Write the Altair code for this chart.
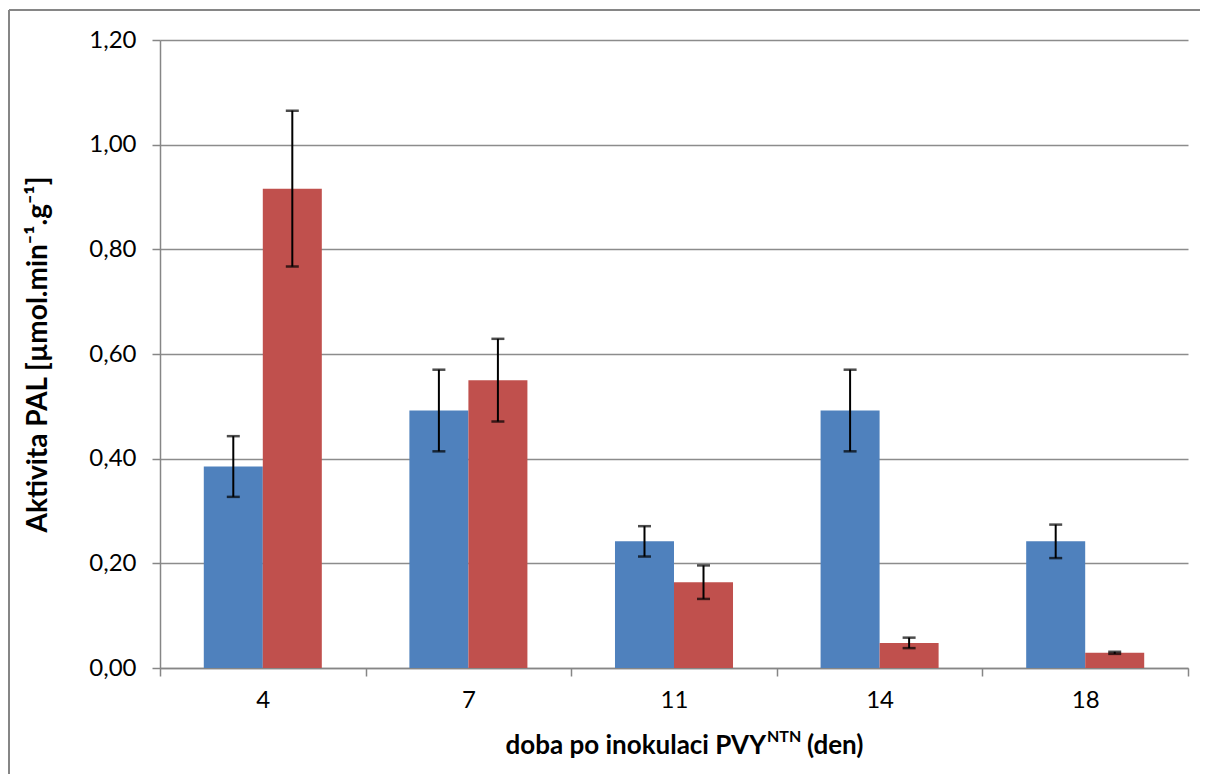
import altair as alt
import pandas as pd

# ---- data ----
days = ["4", "7", "11", "14", "18"]
series = ["s1", "s2"]
blue_vals = [0.385, 0.492, 0.242, 0.492, 0.242]
blue_err = [0.058, 0.078, 0.029, 0.078, 0.032]
red_vals = [0.916, 0.550, 0.164, 0.048, 0.029]
red_err = [0.149, 0.079, 0.032, 0.010, 0.002]
y_ticks = [0.0, 0.2, 0.4, 0.6, 0.8, 1.0, 1.2]
colors = ["#4F81BD", "#C0504D"]

y_title = "Aktivita PAL [µmol.min⁻¹.g⁻¹]"
x_title_main = "doba po inokulaci PVY"
x_title_sup = "NTN"
x_title_end = "(den)"

rows = []
for d, v, e in zip(days, blue_vals, blue_err):
    rows.append({"day": d, "series": series[0], "value": v, "lo": v - e, "hi": v + e})
for d, v, e in zip(days, red_vals, red_err):
    rows.append({"day": d, "series": series[1], "value": v, "lo": v - e, "hi": v + e})
df = pd.DataFrame(rows)
one = pd.DataFrame({"k": [0]})

W, H = 1028, 628
FONT = "Lato"
GRAY = "#868686"

x_scale = alt.Scale(paddingInner=0, paddingOuter=0)
xo_scale = alt.Scale(domain=series, paddingInner=0, paddingOuter=0.742)
y_scale = alt.Scale(domain=[0, 1.2], nice=False)

x_enc = alt.X(
    "day:N",
    sort=days,
    scale=x_scale,
    axis=alt.Axis(
        title=None,
        labelAngle=0,
        tickBand="extent",
        grid=False,
        labelPadding=12,
    ),
)

bars = alt.Chart(df).mark_bar().encode(
    x=x_enc,
    xOffset=alt.XOffset("series:N", sort=series, scale=xo_scale),
    y=alt.Y(
        "value:Q",
        scale=y_scale,
        axis=alt.Axis(
            values=y_ticks,
            labelExpr="replace(format(datum.value, '.2f'), '.', ',')",
            title=y_title,
            titleX=-122,
            titleY=H / 2,
            titleAngle=-90,
            titleAlign="center",
            titleBaseline="middle",
            titleFontSize=28,
            titleFontWeight="bold",
            titleFont=FONT,
            titleColor="black",
            labelPadding=16,
            grid=True,
        ),
    ),
    color=alt.Color("series:N", scale=alt.Scale(domain=series, range=colors), legend=None),
)

err = alt.Chart(df).mark_rule(color="black", strokeWidth=2).encode(
    x=alt.X("day:N", sort=days, scale=x_scale),
    xOffset=alt.XOffset("series:N", sort=series, scale=xo_scale),
    y=alt.Y("lo:Q", scale=y_scale),
    y2="hi:Q",
)
cap_lo = alt.Chart(df).mark_tick(color="black", thickness=2.5, size=13).encode(
    x=alt.X("day:N", sort=days, scale=x_scale),
    xOffset=alt.XOffset("series:N", sort=series, scale=xo_scale),
    y=alt.Y("lo:Q", scale=y_scale),
)
cap_hi = alt.Chart(df).mark_tick(color="black", thickness=2.5, size=13).encode(
    x=alt.X("day:N", sort=days, scale=x_scale),
    xOffset=alt.XOffset("series:N", sort=series, scale=xo_scale),
    y=alt.Y("hi:Q", scale=y_scale),
)

# x title pieces (superscript NTN)
XT = 606
t1 = alt.Chart(one).mark_text(align="right", baseline="middle", fontSize=26, fontWeight="bold", font=FONT, color="black").encode(
    x=alt.value(XT), y=alt.value(706), text=alt.value(x_title_main))
t2 = alt.Chart(one).mark_text(align="left", baseline="middle", fontSize=16, fontWeight="bold", font=FONT, color="black").encode(
    x=alt.value(XT + 1), y=alt.value(697), text=alt.value(x_title_sup))
t3 = alt.Chart(one).mark_text(align="left", baseline="middle", fontSize=26, fontWeight="bold", font=FONT, color="black").encode(
    x=alt.value(XT + 41), y=alt.value(706), text=alt.value(x_title_end))

# outer chart border (top and left edges visible)
b_top = alt.Chart(one).mark_rule(color=GRAY, strokeWidth=2).encode(
    x=alt.value(-151), x2=alt.value(1040), y=alt.value(-30))
b_left = alt.Chart(one).mark_rule(color=GRAY, strokeWidth=2).encode(
    x=alt.value(-151), y=alt.value(-30), y2=alt.value(740))

chart = (
    alt.layer(bars, err, cap_lo, cap_hi, t1, t2, t3, b_top, b_left)
    .properties(
        width=W,
        height=H,
        autosize=alt.AutoSizeParams(type="none"),
        padding={"left": 152, "top": 32, "right": 12, "bottom": 106},
    )
    .configure_view(stroke=None)
    .configure_axis(
        domainColor=GRAY,
        domainWidth=1.5,
        tickColor=GRAY,
        tickWidth=1.5,
        tickSize=8,
        gridColor="#8c8c8c",
        gridWidth=1.3,
        labelColor="black",
        labelFont=FONT,
        labelFontSize=24,
    )
)

chart.save("out.html", embed_options={"renderer": "svg", "actions": False})
